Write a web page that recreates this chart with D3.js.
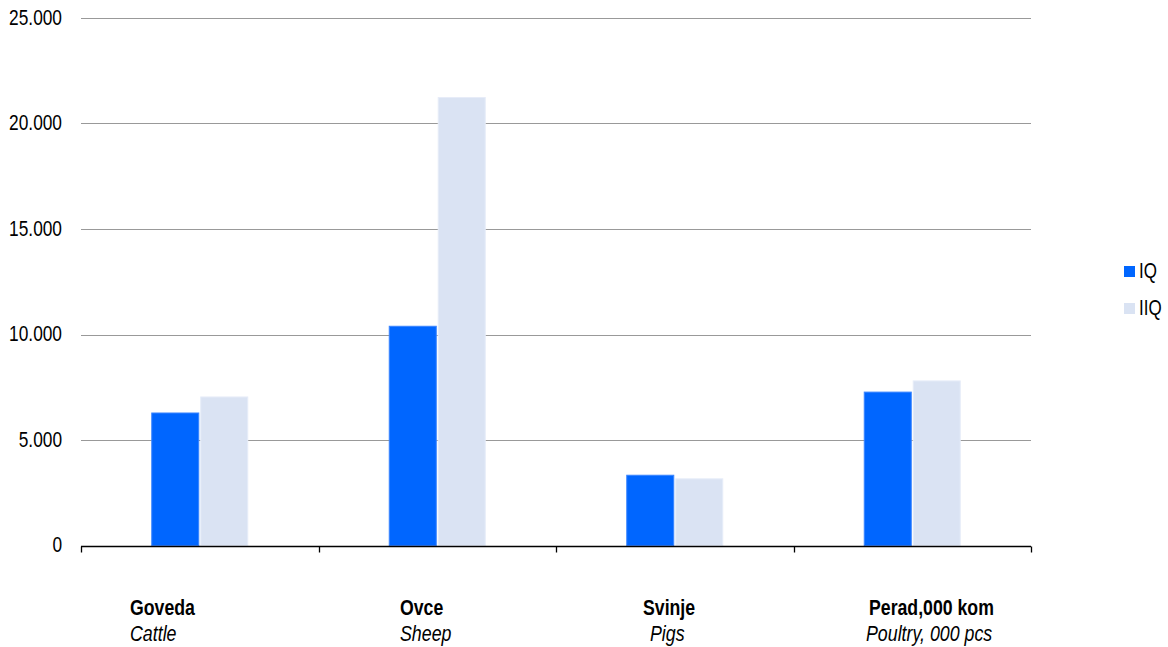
<!DOCTYPE html>
<html><head><meta charset="utf-8">
<script src="https://cdn.jsdelivr.net/npm/d3@7"></script>
<style>body{margin:0;background:#fff}text{font-family:"Liberation Sans",Arial,sans-serif}</style>
</head><body>
<svg id="c" width="1168" height="647"></svg>
<script>
const categories = ["Goveda", "Ovce", "Svinje", "Perad,000 kom"];
const categoriesEn = ["Cattle", "Sheep", "Pigs", "Poultry, 000 pcs"];
const seriesNames = ["IQ", "IIQ"];
const valuesIQ = [6280, 10390, 3330, 7270];
const valuesIIQ = [7040, 21230, 3160, 7800];
const yTicks = [0, 5000, 10000, 15000, 20000, 25000];
const yTickLabels = ["0", "5.000", "10.000", "15.000", "20.000", "25.000"];

const colors = ["#0066FF", "#DAE3F3"];
const nameOffsets = [49, 81.5, 87, 75.5];
const enOffsets = [49, 81.5, 94, 72.5];
const svg = d3.select("#c");
const m = {l:81, r:1031, t:18, b:545.5};
const sy = 1.27;

const x = d3.scaleBand().domain(categories).range([m.l, m.r]).paddingInner(0).paddingOuter(0);
const xs = d3.scaleBand().domain(seriesNames)
  .range([x.bandwidth()/2 - 48, x.bandwidth()/2 + 48]).paddingInner(0.04).paddingOuter(0);
const y = d3.scaleLinear().domain([0, 25000]).range([m.b, m.t]);

// gridlines
svg.append("g").selectAll("line").data(yTicks.slice(1)).join("line")
  .attr("x1", m.l).attr("x2", m.r)
  .attr("y1", d => Math.round(y(d)) + 0.5).attr("y2", d => Math.round(y(d)) + 0.5)
  .attr("stroke", "#999").attr("stroke-width", 1);

// y labels
svg.append("g").selectAll("text").data(yTicks).join("text")
  .attr("text-anchor", "end")
  .attr("transform", d => `translate(62,${y(d)+6.5}) scale(1,${sy})`)
  .attr("font-size", 17.3).attr("fill", "#000")
  .text((d,i) => yTickLabels[i]);

// bars
const data = categories.map((c,i) => ({c, vals:[valuesIQ[i], valuesIIQ[i]]}));
const g = svg.append("g").selectAll("g").data(data).join("g")
  .attr("transform", d => `translate(${x(d.c)},0)`);
g.selectAll("rect").data(d => d.vals.map((v,j) => ({v, s:seriesNames[j], j}))).join("rect")
  .attr("x", d => xs(d.s)).attr("width", xs.bandwidth())
  .attr("y", d => y(d.v)).attr("height", d => y(0) - y(d.v))
  .attr("fill", d => colors[d.j])
  .attr("stroke", d => d.j === 0 ? "#3b85ff" : "#e6ecf8").attr("stroke-width", 1);

// x axis
const ax = Math.round(y(0)) + 0.5;
svg.append("line").attr("x1", m.l).attr("x2", m.r).attr("y1", ax).attr("y2", ax)
  .attr("stroke", "#000").attr("stroke-width", 1.3);
const bounds = categories.map(c => x(c)).concat([m.r]);
svg.append("g").selectAll("line").data(bounds).join("line")
  .attr("x1", d => Math.round(d)+0.5).attr("x2", d => Math.round(d)+0.5)
  .attr("y1", ax).attr("y2", ax + 6).attr("stroke", "#000").attr("stroke-width", 1.3);

// category labels
const lab = svg.append("g").selectAll("g").data(categories).join("g");
lab.append("text")
  .attr("transform", (d,i) => `translate(${x(d)+nameOffsets[i]},614.5) scale(1,1.22)`)
  .attr("font-size", 17.7).attr("font-weight", "bold").text(d => d);
lab.append("text")
  .attr("transform", (d,i) => `translate(${x(d)+enOffsets[i]},640.5) scale(1,1.22)`)
  .attr("font-size", 17.8).attr("font-style", "italic").text((d,i) => categoriesEn[i]);

// legend
const lg = svg.append("g").selectAll("g").data(seriesNames).join("g")
  .attr("transform", (d,i) => `translate(1124,${266 + i*37})`);
lg.append("rect").attr("width", 11).attr("height", 11).attr("fill", (d,i) => colors[i]);
lg.append("text").attr("transform", `translate(15,11.5) scale(1,${sy})`)
  .attr("font-size", 17).text(d => d);
</script>
</body></html>
